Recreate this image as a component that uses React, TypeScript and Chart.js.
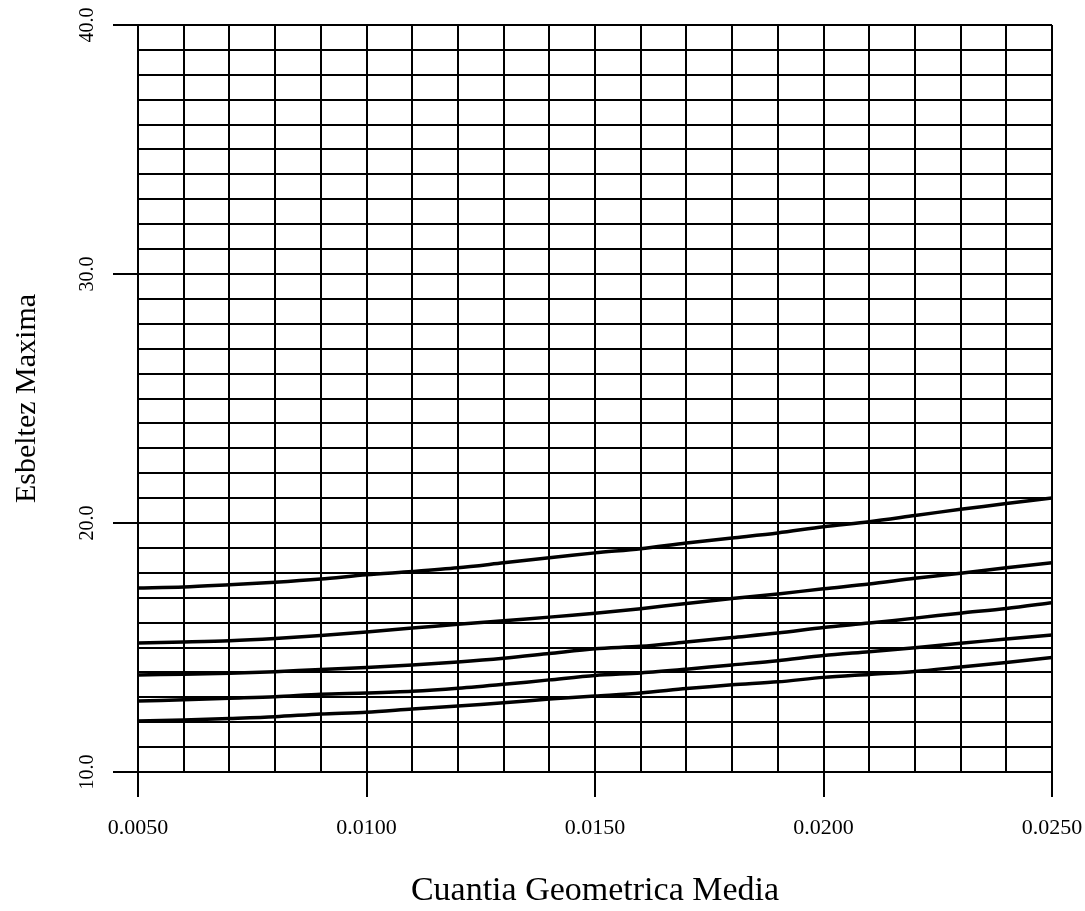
import React, { useEffect, useRef } from "react";
import { Chart, registerables } from "chart.js";

Chart.register(...registerables);

const xValues = [
  0.005, 0.006, 0.007, 0.008, 0.009, 0.01, 0.011, 0.012, 0.013, 0.014, 0.015,
  0.016, 0.017, 0.018, 0.019, 0.02, 0.021, 0.022, 0.023, 0.024, 0.025,
];

const curve1 = [
  17.39, 17.43, 17.52, 17.62, 17.75, 17.92, 18.05, 18.2, 18.4, 18.6, 18.8,
  18.97, 19.2, 19.4, 19.6, 19.85, 20.05, 20.3, 20.55, 20.78, 21.0,
];
const curve2 = [
  15.18, 15.22, 15.27, 15.36, 15.48, 15.62, 15.78, 15.93, 16.07, 16.22, 16.38,
  16.56, 16.77, 16.97, 17.15, 17.36, 17.55, 17.78, 17.98, 18.2, 18.4,
];
const curve3 = [
  13.9, 13.93, 13.97, 14.03, 14.12, 14.2, 14.3, 14.42, 14.57, 14.76, 14.95,
  15.05, 15.22, 15.4, 15.58, 15.8, 15.98, 16.18, 16.38, 16.57, 16.8,
];
const curve4 = [
  12.85, 12.9, 12.96, 13.02, 13.12, 13.17, 13.24, 13.36, 13.52, 13.7, 13.88,
  13.98, 14.13, 14.3, 14.47, 14.68, 14.83, 14.99, 15.17, 15.34, 15.5,
];
const curve5 = [
  12.05, 12.09, 12.15, 12.22, 12.33, 12.4, 12.53, 12.65, 12.78, 12.93, 13.05,
  13.17, 13.35, 13.5, 13.62, 13.8, 13.92, 14.04, 14.22, 14.4, 14.6,
];

const xMajorTicks = [0.005, 0.01, 0.015, 0.02, 0.025];
const yMajorTicks = [10, 20, 30, 40];

const xTitle = "Cuantia Geometrica Media";
const yTitle = "Esbeltez Maxima";

const FONT = "'Liberation Serif', 'Times New Roman', serif";

const isMajor = (v: number, list: number[]) =>
  list.some((m) => Math.abs(m - v) < 1e-9);

export default function App() {
  const ref = useRef<HTMLCanvasElement | null>(null);

  useEffect(() => {
    if (!ref.current) return;
    const series = [curve1, curve2, curve3, curve4, curve5];
    const chart = new Chart(ref.current, {
      type: "line",
      data: {
        datasets: series.map((s, i) => ({
          label: "c" + (i + 1),
          data: s.map((y, j) => ({ x: xValues[j], y })),
          borderColor: "#000",
          borderWidth: 3.5,
          pointRadius: 0,
          tension: 0.3,
          fill: false,
        })),
      },
      options: {
        animation: false,
        responsive: false,
        layout: { padding: { left: 0, top: 25, right: 33, bottom: 0 } },
        plugins: {
          legend: { display: false },
          tooltip: { enabled: false },
        },
        scales: {
          x: {
            type: "linear",
            min: 0.005,
            max: 0.025,
            afterFit: (scale: any) => {
              scale.height = 139;
              scale.paddingLeft = 0;
              scale.paddingRight = 0;
            },
            ticks: {
              stepSize: 0.001,
              autoSkip: false,
              maxRotation: 0,
              minRotation: 0,
              padding: 18,
              color: "#000",
              font: { family: FONT, size: 22 },
              callback: (v: any) => {
                const n = Number(v);
                return isMajor(n, xMajorTicks) ? n.toFixed(4) : "";
              },
            },
            grid: {
              color: "#000",
              lineWidth: 2,
              drawTicks: true,
              tickLength: 25,
              tickWidth: 2,
              tickColor: (ctx: any) =>
                ctx.tick && isMajor(ctx.tick.value, xMajorTicks)
                  ? "#000"
                  : "rgba(0,0,0,0)",
            },
            border: { display: true, color: "#000", width: 2 },
            title: {
              display: true,
              text: xTitle,
              color: "#000",
              font: { family: FONT, size: 34 },
              padding: { top: 0, bottom: 0 },
            },
          },
          y: {
            type: "linear",
            min: 10,
            max: 40,
            afterFit: (scale: any) => {
              scale.width = 138;
              scale.paddingTop = 0;
              scale.paddingBottom = 0;
            },
            ticks: {
              stepSize: 1,
              autoSkip: false,
              minRotation: 90,
              maxRotation: 90,
              crossAlign: "center",
              padding: 8,
              color: "#000",
              font: { family: FONT, size: 20 },
              callback: (v: any) => {
                const n = Number(v);
                return isMajor(n, yMajorTicks) ? n.toFixed(1) : "";
              },
            },
            grid: {
              color: "#000",
              lineWidth: 2,
              drawTicks: true,
              tickLength: 25,
              tickWidth: 2,
              tickColor: (ctx: any) =>
                ctx.tick && isMajor(ctx.tick.value, yMajorTicks)
                  ? "#000"
                  : "rgba(0,0,0,0)",
            },
            border: { display: true, color: "#000", width: 2 },
            title: {
              display: true,
              text: yTitle,
              color: "#000",
              font: { family: FONT, size: 30 },
              padding: { top: 9, bottom: 0 },
            },
          },
        },
      },
    } as any);
    return () => chart.destroy();
  }, []);

  return (
    <div
      style={{
        position: "fixed",
        left: 0,
        top: 0,
        width: 1085,
        height: 911,
        background: "#fff",
      }}
    >
      <canvas ref={ref} width={1085} height={911} style={{ display: "block" }} />
    </div>
  );
}
